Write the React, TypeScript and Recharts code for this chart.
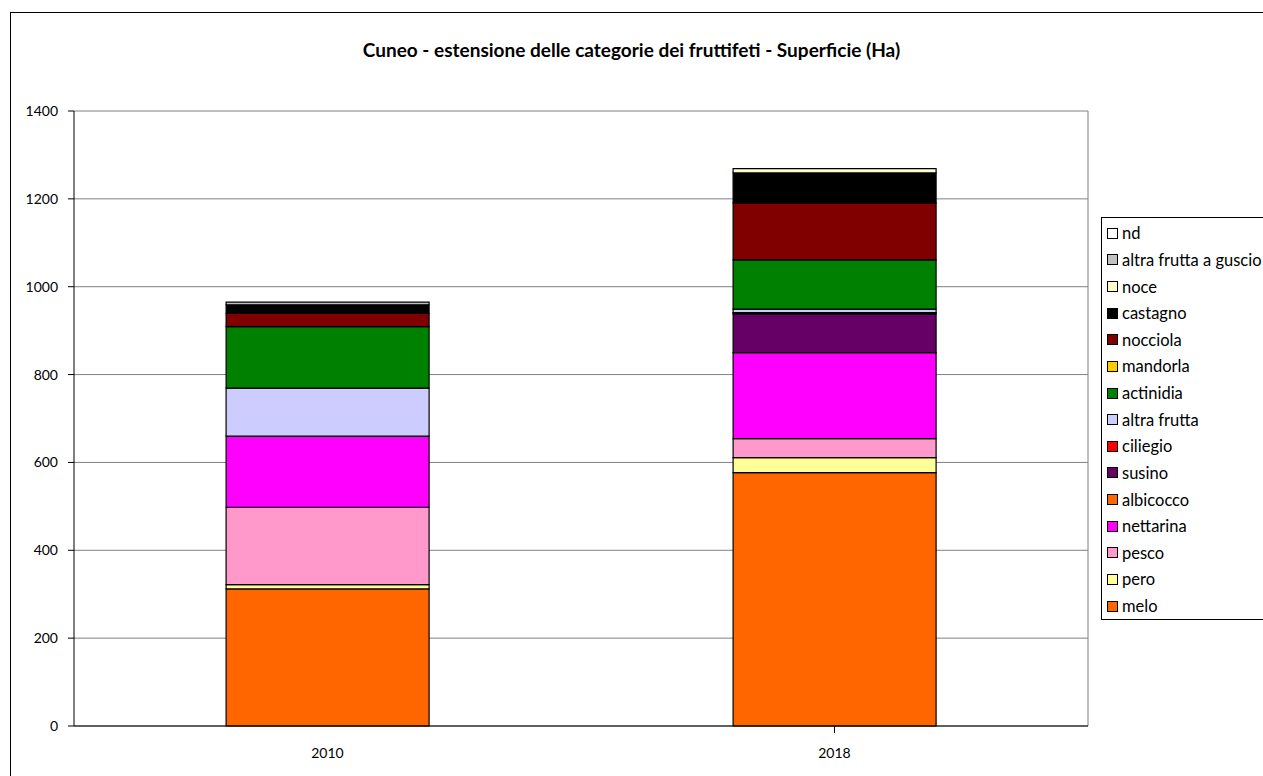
import { BarChart, Bar, XAxis, YAxis, CartesianGrid } from "recharts";

const years = ["2010", "2018"];
const melo = [312, 577];
const pero = [10, 34];
const pesco = [176, 43];
const nettarina = [162, 196];
const albicocco = [0, 0];
const susino = [0, 88];
const ciliegio = [0, 3];
const altraFrutta = [109, 8];
const actinidia = [140, 112];
const mandorla = [0, 0];
const nocciola = [30, 130];
const castagno = [20, 68];
const noce = [0, 10];
const altraGuscio = [6, 0];
const nd = [0, 0];
const yTicks = [0, 200, 400, 600, 800, 1000, 1200, 1400];

const series = [
  { key: "melo", values: melo, color: "#FF6600" },
  { key: "pero", values: pero, color: "#FFFF99" },
  { key: "pesco", values: pesco, color: "#FF99CC" },
  { key: "nettarina", values: nettarina, color: "#FF00FF" },
  { key: "albicocco", values: albicocco, color: "#FF6600" },
  { key: "susino", values: susino, color: "#660066" },
  { key: "ciliegio", values: ciliegio, color: "#FF0000" },
  { key: "altra frutta", values: altraFrutta, color: "#CCCCFF" },
  { key: "actinidia", values: actinidia, color: "#008000" },
  { key: "mandorla", values: mandorla, color: "#FFCC00" },
  { key: "nocciola", values: nocciola, color: "#800000" },
  { key: "castagno", values: castagno, color: "#000000" },
  { key: "noce", values: noce, color: "#FFFFCC" },
  { key: "altra frutta a guscio", values: altraGuscio, color: "#C0C0C0" },
  { key: "nd", values: nd, color: "#FFFFFF" },
];

const data = years.map((year, i) => {
  const row: Record<string, string | number> = { year };
  series.forEach((s) => {
    row[s.key] = s.values[i];
  });
  return row;
});

const font = "Lato, 'Open Sans', sans-serif";

const XTick = (props: any) => {
  const { x, y, payload, index } = props;
  const half = 507;
  return (
    <g>
      {index === 0 && <line x1={x - half} y1={y - 8} x2={x - half} y2={y - 1} stroke="#000" />}
      <line x1={x + half} y1={y - 8} x2={x + half} y2={y - 1} stroke="#000" />
      <text x={x} y={y + 24} textAnchor="middle" fontSize={14} fill="#000" fontFamily={font}>
        {payload.value}
      </text>
    </g>
  );
};

const LegendBox = () => (
  <div
    style={{
      position: "absolute",
      left: 1101,
      top: 217,
      width: 175,
      height: 403,
      border: "1px solid #000",
      background: "#fff",
      padding: "2px 0 0 5px",
      fontFamily: font,
      fontSize: 16.5,
      boxSizing: "border-box",
    }}
  >
    {[...series].reverse().map((s) => (
      <div key={s.key} style={{ display: "flex", alignItems: "center", height: 26.64, whiteSpace: "nowrap" }}>
        <span
          style={{
            display: "inline-block",
            width: 9,
            height: 9,
            background: s.color,
            border: "1px solid #000",
            marginRight: 4,
          }}
        />
        {s.key}
      </div>
    ))}
  </div>
);

export default function App() {
  return (
    <div style={{ position: "absolute", left: 0, top: 0, width: 1263, height: 776, background: "#fff", overflow: "hidden" }}>
      <div
        style={{
          position: "absolute",
          left: 10,
          top: 12,
          width: 1270,
          height: 780,
          border: "1px solid #000",
        }}
      />
      <div
        style={{
          position: "absolute",
          left: 0,
          width: 1263,
          top: 38,
          textAlign: "center",
          fontFamily: font,
          fontWeight: "bold",
          fontSize: 19,
        }}
      >
        Cuneo - estensione delle categorie dei fruttifeti - Superficie (Ha)
      </div>
      <BarChart
        width={1263}
        height={776}
        data={data}
        margin={{ top: 111, left: 14, right: 175, bottom: 20 }}
        barCategoryGap="30%"
        style={{ position: "absolute", left: 0, top: 0 }}
      >
        <CartesianGrid stroke="#808080" vertical={true} verticalPoints={[1088]} />
        <XAxis
          dataKey="year"
          height={30}
          tick={<XTick />}
          tickLine={false}
          axisLine={{ stroke: "#000" }}
          interval={0}
        />
        <YAxis
          width={60}
          domain={[0, 1400]}
          ticks={yTicks}
          tick={{ fontSize: 14, fill: "#000", fontFamily: font }}
          tickLine={{ stroke: "#000" }}
          tickSize={6}
          tickMargin={10}
          axisLine={{ stroke: "#000" }}
        />
        {series.map((s) => (
          <Bar
            key={s.key}
            dataKey={s.key}
            stackId="a"
            fill={s.color}
            stroke="#000"
            strokeWidth={1.2}
            isAnimationActive={false}
          />
        ))}
      </BarChart>
      <LegendBox />
    </div>
  );
}
